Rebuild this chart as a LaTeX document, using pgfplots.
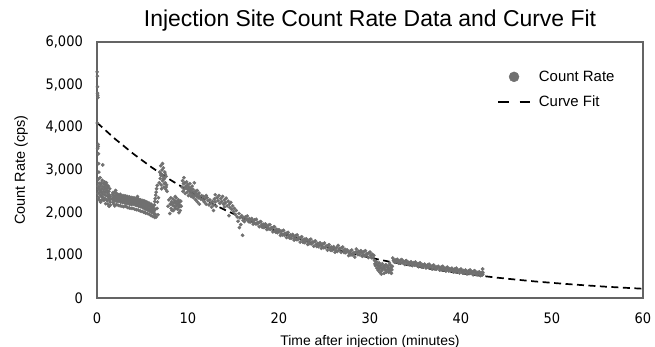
\documentclass[border=0pt]{standalone}
\usepackage{pgfplots}
\pgfplotsset{compat=1.18}
\usepackage{fontspec}
\setmainfont{Liberation Sans}
\newfontfamily\tickfont{DejaVu Sans}[FakeStretch=0.9]
\definecolor{cgray}{RGB}{112,112,112}
\definecolor{axgray}{RGB}{100,100,100}
\begin{document}
\begin{tikzpicture}
\path[use as bounding box] (-97bp,-49bp) rectangle (558bp,298bp);
\begin{axis}[
  at={(0,0)}, anchor=south west,
  width=546bp, height=256bp, scale only axis,
  xmin=0, xmax=60, ymin=0, ymax=6000,
  xtick={0,10,...,60}, ytick={0,1000,...,6000},
  scaled y ticks=false,
  major tick length=0pt, tick style={draw=none},
  axis line style={draw=axgray, line width=1.2bp},
  /pgf/number format/assume math mode=true,
  /pgf/number format/1000 sep={,},
  ticklabel style={font=\tickfont\fontsize{14.5}{16}\selectfont, inner sep=0pt},
  yticklabel style={anchor=east, xshift=-14bp},
  xticklabel style={anchor=north, yshift=-15bp},
  title={Injection Site Count Rate Data and Curve Fit},
  title style={at={(axis description cs:0.5,1)}, anchor=base, yshift=10bp, inner sep=0pt, font=\fontsize{23}{26}\selectfont},
  xlabel={Time after injection (minutes)},
  xlabel style={at={(axis description cs:0.5,-0.1836)}, anchor=base, inner sep=0pt, font=\fontsize{14}{16}\selectfont},
  ylabel={Count Rate (cps)},
  ylabel style={at={(axis description cs:-0.1319,0.5)}, anchor=base, inner sep=0pt, font=\fontsize{14.5}{16}\selectfont},
  legend cell align=left,
  legend style={draw=none, fill=none, at={(0.7326,0.888)}, anchor=north west, inner sep=0pt, row sep=13bp, column sep=8bp, font=\fontsize{15}{18}\selectfont, nodes={inner sep=0pt}},
]
\addplot[only marks, mark=*, mark size=1.65bp, color=cgray, mark options={draw=none, fill=cgray},
  legend image code/.code={\fill[cgray] (16bp,0bp) circle (5bp);}] table {
x y
0.02 5300
0.04 5200
0.05 4950
0.06 4800
0.08 4750
0.10 4700
0.03 4100
0.12 3600
0.14 3550
0.07 3500
0.16 3380
0.18 3150
0.20 2950
0.10 2620
0.12 2450
0.15 2780
0.18 2350
0.20 2550
0.23 2690
0.25 2300
0.28 2480
0.30 2600
0.33 2820
0.35 2410
0.38 2520
0.40 2250
0.43 2650
0.45 2480
0.48 2700
0.50 2380
0.53 2560
0.55 2300
0.58 2760
0.60 2440
0.63 3120
0.65 2610
0.68 2350
0.70 2500
0.73 2680
0.75 2290
0.78 2550
0.80 2420
0.83 2720
0.85 2600
0.88 2330
0.90 2480
0.93 2650
0.95 2210
0.98 2570
1.00 2400
1.03 2700
1.05 2300
1.08 2520
1.10 2640
1.13 2280
1.15 2460
1.18 2580
1.20 2200
1.23 2380
1.25 2620
1.28 2340
1.30 2500
1.33 2150
1.35 2420
1.38 2300
1.40 2560
1.43 2250
1.45 2380
1.48 2180
1.50 2330
1.7 2420
1.7 2310
1.75 2240
1.75 2470
1.8 2450
1.8 2350
1.85 2200
1.9 2380
1.9 2290
1.95 2160
1.95 2480
2.0 2400
2.0 2330
2.05 2520
2.1 2360
2.1 2270
2.15 2190
2.15 2450
2.2 2410
2.2 2320
2.3 2350
2.3 2260
2.35 2170
2.35 2420
2.4 2390
2.4 2300
2.5 2340
2.5 2280
2.55 2160
2.55 2430
2.6 2380
2.6 2250
2.7 2320
2.7 2290
2.75 2150
2.75 2400
2.8 2370
2.8 2240
2.9 2330
2.9 2270
2.95 2140
2.95 2400
3.0 2360
3.0 2230
3.1 2310
3.1 2280
3.15 2150
3.15 2390
3.2 2350
3.2 2220
3.3 2300
3.3 2260
3.35 2120
3.35 2380
3.4 2340
3.4 2210
3.5 2290
3.5 2250
3.55 2110
3.55 2370
3.6 2330
3.6 2200
3.7 2280
3.7 2240
3.75 2100
3.75 2360
3.8 2320
3.8 2190
3.9 2270
3.9 2230
3.95 2100
3.95 2350
4.0 2310
4.0 2200
4.1 2260
4.1 2220
4.15 2080
4.15 2340
4.2 2300
4.2 2180
4.3 2250
4.3 2210
4.35 2070
4.35 2330
4.4 2290
4.4 2170
4.45 2380
4.5 2240
4.5 2200
4.55 2060
4.55 2320
4.6 2280
4.6 2150
4.7 2230
4.7 2190
4.75 2040
4.75 2300
4.8 2260
4.8 2140
4.9 2210
4.9 2170
4.95 2030
4.95 2290
5.0 2250
5.0 2120
5.1 2200
5.1 2150
5.15 2010
5.15 2280
5.2 2230
5.2 2100
5.25 2010
5.3 2180
5.3 2130
5.35 1990
5.35 2260
5.4 2210
5.4 2080
5.5 2160
5.5 2110
5.55 1980
5.55 2240
5.6 2190
5.6 2060
5.7 2140
5.7 2090
5.75 1960
5.75 2220
5.8 2170
5.8 2040
5.9 2110
5.9 2070
5.95 1930
5.95 2200
6.0 2140
6.0 2010
6.1 2080
6.1 2040
6.15 1910
6.15 2170
6.2 2110
6.2 1990
6.3 2050
6.3 1970
6.35 1890
6.4 2080
6.4 1960
6.30 2180
6.35 2260
6.40 2330
6.45 2410
6.50 2480
6.55 2560
6.50 1900
6.60 2100
6.65 2250
6.70 1950
6.75 2350
6.62 2640
6.85 2700
6.90 2950
6.95 2800
7.00 3100
7.05 2650
7.10 2900
7.15 3000
7.20 2750
7.25 2850
7.30 3050
7.35 2600
7.40 2800
7.45 2950
7.50 2700
7.55 2550
7.60 2850
7.65 2650
7.70 2500
7.00 2880
7.20 3150
7.40 2680
7.10 2560
7.30 2780
7.50 2900
7.60 2600
7.80 2150
7.90 2300
8.00 1980
8.05 2200
8.10 2350
8.15 2100
8.20 2250
8.30 2180
8.35 2320
8.40 2050
8.45 2230
8.50 2150
8.55 2280
8.60 2100
8.65 2220
8.70 2350
8.75 2160
8.80 2260
8.85 2080
8.90 2200
8.95 2300
9.00 2130
9.05 2240
9.10 2180
9.15 2050
9.20 2270
9.25 2150
8.25 2050
8.60 2380
9.00 2000
9.35 2600
9.40 2750
9.45 2500
9.50 2680
9.55 2820
9.60 2550
9.65 2700
9.70 2450
9.75 2620
9.80 2580
9.85 2720
9.90 2480
9.95 2650
10.00 2550
10.05 2400
10.10 2600
10.15 2520
10.20 2680
10.25 2450
10.30 2560
10.35 2380
10.40 2500
10.45 2620
10.50 2420
10.55 2550
10.60 2350
10.65 2480
10.70 2700
10.75 2400
10.80 2500
10.85 2300
10.90 2450
10.95 2380
11.00 2520
11.05 2250
11.10 2420
11.15 2350
11.20 2460
11.25 2200
11.30 2380
11.40 2320
11.50 2400
11.6 2300
11.7 2380
11.8 2250
11.9 2330
12.0 2200
12.1 2350
12.2 2280
12.3 2180
12.4 2300
12.5 2220
12.6 2130
12.7 2260
12.8 2180
12.9 2320
13.0 2250
13.1 2150
13.2 2350
13.3 2280
13.4 2400
13.5 2220
13.6 2330
13.7 2260
13.8 2380
13.9 2200
14.0 2300
14.1 2230
14.2 2340
14.3 2160
14.4 2270
14.5 1930
14.55 2200
14.6 2120
14.7 2240
14.8 2080
14.9 2160
15.0 2020
15.1 2100
15.2 1960
15.3 2050
15.4 1900
15.5 1800
15.6 1980
15.65 1650
15.7 1880
15.8 1720
15.9 1930
16.0 1470
16.05 1820
16.1 1880
16.2 1790
16.3 1900
16.4 1840
13.0 2420
12.0 2400
14.0 2130
12.8 2050
16.50 1921
16.58 1841
16.66 1791
16.75 1859
16.83 1779
16.91 1834
17.00 1862
17.08 1822
17.16 1732
17.25 1765
17.33 1830
17.41 1740
17.50 1844
17.58 1734
17.66 1774
17.75 1762
17.83 1672
17.91 1782
18.00 1791
18.08 1711
18.16 1661
18.25 1731
18.33 1651
18.41 1706
18.50 1735
18.58 1695
18.66 1605
18.75 1640
18.83 1705
18.91 1615
19.00 1720
19.08 1610
19.16 1650
19.25 1640
19.33 1550
19.41 1660
19.50 1671
19.58 1591
19.66 1541
19.75 1612
19.83 1532
19.91 1587
20.00 1598
20.08 1558
20.16 1468
20.25 1504
20.33 1569
20.41 1479
20.50 1585
20.58 1475
20.66 1515
20.75 1507
20.83 1417
20.91 1527
21.00 1539
21.08 1459
21.16 1409
21.25 1481
21.33 1401
21.41 1456
21.50 1489
21.58 1449
21.66 1359
21.75 1396
21.83 1461
21.91 1371
22.00 1479
22.08 1369
22.16 1409
22.25 1402
22.33 1312
22.41 1422
22.50 1435
22.58 1355
22.66 1305
22.75 1379
22.83 1299
22.91 1354
23.00 1387
23.08 1347
23.16 1257
23.25 1296
23.33 1361
23.41 1271
23.50 1380
23.58 1270
23.66 1310
23.75 1304
23.83 1214
23.91 1324
24.00 1338
24.08 1258
24.16 1208
24.25 1283
24.33 1203
24.41 1258
24.50 1293
24.58 1253
24.66 1163
24.75 1203
24.83 1268
24.91 1178
25.00 1288
25.08 1178
25.16 1218
25.25 1213
25.33 1123
25.41 1233
25.50 1249
25.58 1169
25.66 1119
25.75 1194
25.83 1114
25.91 1169
26.00 1205
26.08 1165
26.16 1075
26.25 1116
26.33 1181
26.41 1091
26.50 1232
26.58 1122
26.66 1162
26.75 1159
26.83 1069
26.91 1179
27.00 1195
27.08 1115
27.16 1065
27.25 1142
27.33 1062
27.41 1117
27.50 1124
27.58 1084
27.66 994
27.75 1036
27.83 1101
27.91 1011
28.00 1122
28.08 1012
28.16 1052
28.25 1050
28.33 960
28.41 1070
28.50 1147
28.58 1067
28.66 1017
28.75 1095
28.83 1015
28.91 1070
29.00 1108
29.08 1068
29.16 978
29.25 1021
29.33 1086
29.41 996
29.50 1109
29.58 999
29.66 1039
29.75 1037
29.83 947
29.91 1057
30.00 1075
30.08 995
30.16 945
30.25 1024
30.33 944
30.41 999
30.50 880
30.55 800
30.60 760
30.70 850
30.75 700
30.80 780
30.90 650
30.95 740
31.00 820
31.05 690
31.10 600
31.15 760
31.20 710
31.25 560
31.30 640
31.35 800
31.40 680
31.50 740
31.55 580
31.60 700
31.65 760
31.70 650
31.75 780
31.80 610
31.90 720
31.95 670
32.00 750
32.05 600
32.10 690
32.15 820
32.20 640
32.25 770
32.30 700
32.35 580
32.40 660
32.45 740
32.50 936
32.58 881
32.66 846
32.75 896
32.83 841
32.91 881
33.00 906
33.08 876
33.16 816
33.25 841
33.33 886
33.41 826
33.50 901
33.58 826
33.66 851
33.75 851
33.83 786
33.91 866
34.00 877
34.08 822
34.16 787
34.25 837
34.33 782
34.41 822
34.50 848
34.58 818
34.66 758
34.75 784
34.83 829
34.91 769
35.00 845
35.08 770
35.16 795
35.25 796
35.33 731
35.41 811
35.50 822
35.58 767
35.66 732
35.75 783
35.83 728
35.91 768
36.00 794
36.08 764
36.16 704
36.25 731
36.33 776
36.41 716
36.50 792
36.58 717
36.66 742
36.75 744
36.83 679
36.91 759
37.00 771
37.08 716
37.16 681
37.25 733
37.33 678
37.41 718
37.50 745
37.58 715
37.66 655
37.75 682
37.83 727
37.91 667
38.00 744
38.08 669
38.16 694
38.25 696
38.33 631
38.41 711
38.50 723
38.58 668
38.66 633
38.75 686
38.83 631
38.91 671
39.00 698
39.08 668
39.16 608
39.25 636
39.33 681
39.41 621
39.50 699
39.58 624
39.66 649
39.75 651
39.83 586
39.91 666
40.00 679
40.08 624
40.16 589
40.25 642
40.33 587
40.41 627
40.50 655
40.58 625
40.66 565
40.75 593
40.83 638
40.91 578
41.00 656
41.08 581
41.16 606
41.25 610
41.33 545
41.41 625
41.50 638
41.58 583
41.66 548
41.75 602
41.83 547
41.91 587
42.00 615
42.08 585
42.16 525
42.25 554
42.30 599
42.33 539
42.38 680
42.40 600
42.40 560
};
\addlegendentry{Count Rate}
\addplot[black, line width=1.7bp, dash pattern=on 7bp off 4.5bp,
  legend image code/.code={\draw[black, line width=1.7bp, dash pattern=on 10.5bp off 11bp] (0bp,0bp) -- (32bp,0bp);}] table {
x y
0 4110
2 3726
4 3379
6 3063
8 2777
10 2518
12 2283
14 2070
16 1877
18 1701
20 1543
22 1399
24 1268
26 1150
28 1042
30 945
32 857
34 777
36 704
38 639
40 579
42 525
44 476
46 432
48 391
50 355
52 322
54 292
56 264
58 240
60 217
};
\addlegendentry{Curve Fit}
\end{axis}
\end{tikzpicture}
\end{document}
